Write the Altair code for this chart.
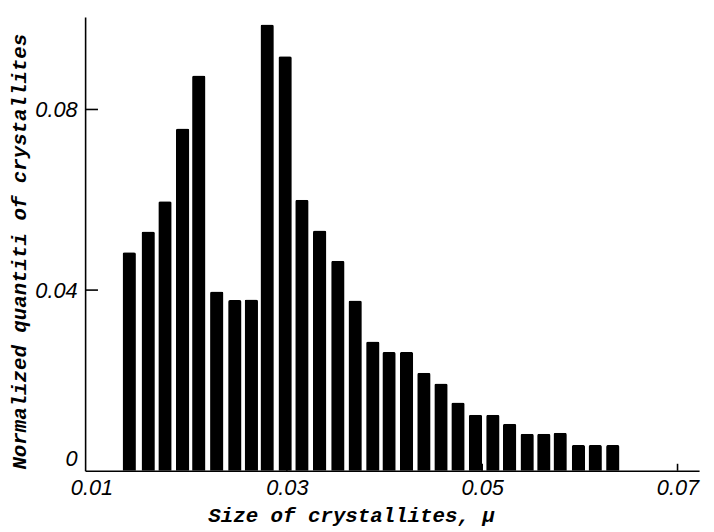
import altair as alt
import pandas as pd

# Bin centres (size of crystallites, micron) and normalized quantities
sizes = [0.01386, 0.01580, 0.01752, 0.01933, 0.02098, 0.02282, 0.02467, 0.02636,
         0.02798, 0.02982, 0.03154, 0.03336, 0.03522, 0.03699, 0.03880, 0.04046,
         0.04225, 0.04403, 0.04578, 0.04752, 0.04931, 0.05109, 0.05281, 0.05460,
         0.05631, 0.05798, 0.05985, 0.06157, 0.06337]
quantities = [0.0484, 0.0530, 0.0597, 0.0758, 0.0875, 0.0397, 0.0378, 0.0379,
              0.0988, 0.0918, 0.0600, 0.0532, 0.0465, 0.0377, 0.0286, 0.0263,
              0.0263, 0.0217, 0.0193, 0.0151, 0.0124, 0.0124, 0.0104, 0.0082,
              0.0082, 0.0084, 0.0057, 0.0057, 0.0057]

x_ticks = [0.01, 0.03, 0.05, 0.07]
y_ticks = [0.0, 0.04, 0.08]
x_domain = [0.00985, 0.0717]
y_domain = [0.0, 0.1005]

df = pd.DataFrame({"size": sizes, "q": quantities})
xt = pd.DataFrame({"t": x_ticks[1:]})
yt = pd.DataFrame({"t": y_ticks[1:]})

W, H = 621, 459
label_font = "Liberation Sans"
title_font = "Liberation Mono"

xscale = alt.Scale(domain=x_domain, nice=False, zero=False)
yscale = alt.Scale(domain=y_domain, nice=False)

bars = alt.Chart(df).mark_bar(
    color="black", size=13.5, cornerRadiusTopLeft=2, cornerRadiusTopRight=2
).encode(
    x=alt.X("size:Q", scale=xscale,
            axis=alt.Axis(values=x_ticks, format=".2f", ticks=False, grid=False,
                          domainColor="black", domainWidth=1.6,
                          labelFont=label_font, labelFontStyle="italic",
                          labelFontSize=22, labelColor="black", labelPadding=7,
                          labelFlush=False,
                          title="Size of crystallites, μ",
                          titleFont=title_font, titleFontStyle="italic",
                          titleFontWeight="bold", titleFontSize=21,
                          titleColor="black", titleX=269, titleY=51,
                          titleBaseline="alphabetic",
                          titleAnchor="middle", titleAlign="center")),
    y=alt.Y("q:Q", scale=yscale,
            axis=alt.Axis(values=y_ticks, ticks=False, grid=False,
                          labelExpr="datum.value == 0 ? '0' : format(datum.value, '.2f')",
                          domainColor="black", domainWidth=1.6,
                          labelFont=label_font, labelFontStyle="italic",
                          labelFontSize=22, labelColor="black", labelPadding=8,
                          labelFlush=True,
                          title="Normalized quantiti of crystallites",
                          titleFont=title_font, titleFontStyle="italic",
                          titleFontWeight="bold", titleFontSize=21,
                          titleColor="black", titleX=-66, titleY=237,
                          titleAnchor="middle", titleAlign="center",
                          titleBaseline="middle")),
)

ytick_rules = alt.Chart(yt).mark_rule(color="black", strokeWidth=1.6).encode(
    y=alt.Y("t:Q", scale=yscale),
    x=alt.value(0), x2=alt.value(13),
)
xtick_rules = alt.Chart(xt).mark_rule(color="black", strokeWidth=1.6).encode(
    x=alt.X("t:Q", scale=xscale),
    y=alt.value(H), y2=alt.value(H - 7),
)

chart = alt.layer(bars, ytick_rules, xtick_rules).properties(
    width=W, height=H,
    autosize=alt.AutoSizeParams(type="none"),
    padding={"left": 78, "top": 6, "right": 7, "bottom": 60},
).configure(background="white").configure_view(stroke=None)

chart.save("out.html", embed_options={"renderer": "svg", "actions": False})
